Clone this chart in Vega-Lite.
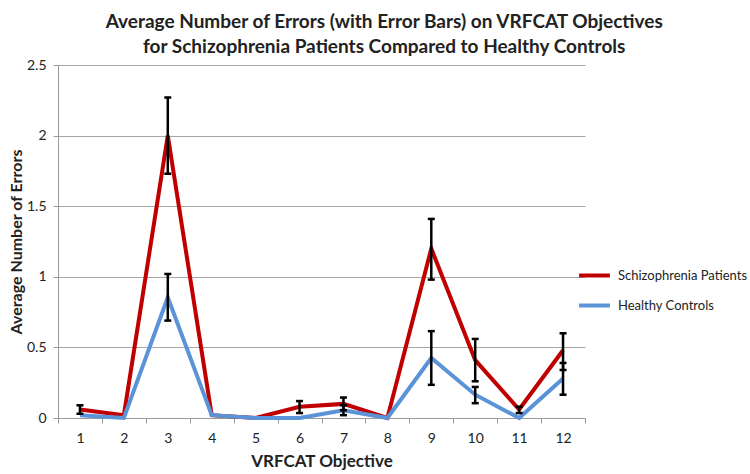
{
  "$schema": "https://vega.github.io/schema/vega-lite/v6.json",
  "width": 527,
  "height": 353,
  "autosize": "none",
  "padding": {"left": 58, "top": 65, "right": 165, "bottom": 56},
  "background": "white",
  "config": {
    "font": "Lato",
    "view": {"stroke": null},
    "axis": {"labelColor": "#222", "titleColor": "#222", "domainColor": "#9a9a9a", "tickColor": "#9a9a9a", "gridColor": "#a6a6a6"}
  },
  "title": {
    "text": ["Average Number of Errors (with Error Bars) on VRFCAT Objectives", "for Schizophrenia Patients Compared to Healthy Controls"],
    "fontSize": 19,
    "fontWeight": "bold",
    "color": "#222",
    "anchor": "middle",
    "frame": "bounds",
    "lineHeight": 25,
    "offset": 1,
    "dx": 6
  },
  "data": {
    "values": [
      {"objective": 1, "group": "Schizophrenia Patients", "mean": 0.06, "lo": 0.03, "hi": 0.09},
      {"objective": 2, "group": "Schizophrenia Patients", "mean": 0.02},
      {"objective": 3, "group": "Schizophrenia Patients", "mean": 2.0, "lo": 1.73, "hi": 2.27},
      {"objective": 4, "group": "Schizophrenia Patients", "mean": 0.02},
      {"objective": 5, "group": "Schizophrenia Patients", "mean": 0.0},
      {"objective": 6, "group": "Schizophrenia Patients", "mean": 0.08, "lo": 0.035, "hi": 0.12},
      {"objective": 7, "group": "Schizophrenia Patients", "mean": 0.1, "lo": 0.055, "hi": 0.145},
      {"objective": 8, "group": "Schizophrenia Patients", "mean": 0.0},
      {"objective": 9, "group": "Schizophrenia Patients", "mean": 1.2, "lo": 0.98, "hi": 1.41},
      {"objective": 10, "group": "Schizophrenia Patients", "mean": 0.41, "lo": 0.26, "hi": 0.56},
      {"objective": 11, "group": "Schizophrenia Patients", "mean": 0.06, "lo": 0.035, "hi": 0.08},
      {"objective": 12, "group": "Schizophrenia Patients", "mean": 0.48, "lo": 0.34, "hi": 0.6},
      {"objective": 1, "group": "Healthy Controls", "mean": 0.02},
      {"objective": 2, "group": "Healthy Controls", "mean": 0.0},
      {"objective": 3, "group": "Healthy Controls", "mean": 0.855, "lo": 0.69, "hi": 1.02},
      {"objective": 4, "group": "Healthy Controls", "mean": 0.02},
      {"objective": 5, "group": "Healthy Controls", "mean": 0.0},
      {"objective": 6, "group": "Healthy Controls", "mean": 0.0},
      {"objective": 7, "group": "Healthy Controls", "mean": 0.055, "lo": 0.02, "hi": 0.09},
      {"objective": 8, "group": "Healthy Controls", "mean": 0.0},
      {"objective": 9, "group": "Healthy Controls", "mean": 0.425, "lo": 0.235, "hi": 0.615},
      {"objective": 10, "group": "Healthy Controls", "mean": 0.165, "lo": 0.105, "hi": 0.22},
      {"objective": 11, "group": "Healthy Controls", "mean": 0.0},
      {"objective": 12, "group": "Healthy Controls", "mean": 0.28, "lo": 0.165, "hi": 0.39}
    ]
  },
  "encoding": {
    "x": {
      "field": "objective",
      "type": "ordinal",
      "scale": {"type": "band", "paddingInner": 0, "paddingOuter": 0},
      "axis": {
        "title": "VRFCAT Objective",
        "titleFontSize": 17,
        "titleFontWeight": "bold",
        "titlePadding": 8,
        "labelAngle": 0,
        "labelFontSize": 14,
        "labelPadding": 8,
        "tickBand": "extent",
        "tickSize": 5,
        "grid": false
      }
    }
  },
  "layer": [
    {
      "transform": [{"filter": "datum.group == 'Schizophrenia Patients'"}],
      "mark": {"type": "line", "strokeWidth": 4, "strokeJoin": "miter"},
      "encoding": {
        "y": {
          "field": "mean",
          "type": "quantitative",
          "scale": {"domain": [0, 2.5], "nice": false},
          "axis": {
            "title": "Average Number of Errors",
            "titleFontSize": 16,
            "titleFontWeight": "bold",
            "titlePadding": 2,
            "values": [0, 0.5, 1, 1.5, 2, 2.5],
            "format": "~g",
            "labelFontSize": 14,
            "labelPadding": 7,
            "tickSize": 5,
            "grid": true
          }
        },
        "color": {
          "field": "group",
          "type": "nominal",
          "scale": {"domain": ["Schizophrenia Patients", "Healthy Controls"], "range": ["#c00000", "#5b93d8"]},
          "legend": {
            "title": null,
            "orient": "none",
            "legendX": 519,
            "legendY": 193,
            "symbolType": "stroke",
            "symbolSize": 950,
            "symbolStrokeWidth": 4,
            "labelFontSize": 13,
            "labelColor": "#222",
            "labelOffset": 6,
            "rowPadding": 4
          }
        }
      }
    },
    {
      "transform": [{"filter": "datum.group == 'Healthy Controls'"}],
      "mark": {"type": "line", "strokeWidth": 4, "strokeJoin": "miter"},
      "encoding": {
        "y": {"field": "mean", "type": "quantitative"},
        "color": {"field": "group", "type": "nominal"}
      }
    },
    {
      "transform": [{"filter": "isValid(datum.lo)"}],
      "mark": {"type": "rule", "color": "black", "strokeWidth": 2.5},
      "encoding": {
        "y": {"field": "lo", "type": "quantitative"},
        "y2": {"field": "hi"}
      }
    },
    {
      "transform": [{"filter": "isValid(datum.lo)"}],
      "mark": {"type": "tick", "color": "black", "thickness": 2.5, "size": 7, "opacity": 1},
      "encoding": {
        "y": {"field": "lo", "type": "quantitative"}
      }
    },
    {
      "transform": [{"filter": "isValid(datum.lo)"}],
      "mark": {"type": "tick", "color": "black", "thickness": 2.5, "size": 7, "opacity": 1},
      "encoding": {
        "y": {"field": "hi", "type": "quantitative"}
      }
    }
  ]
}
